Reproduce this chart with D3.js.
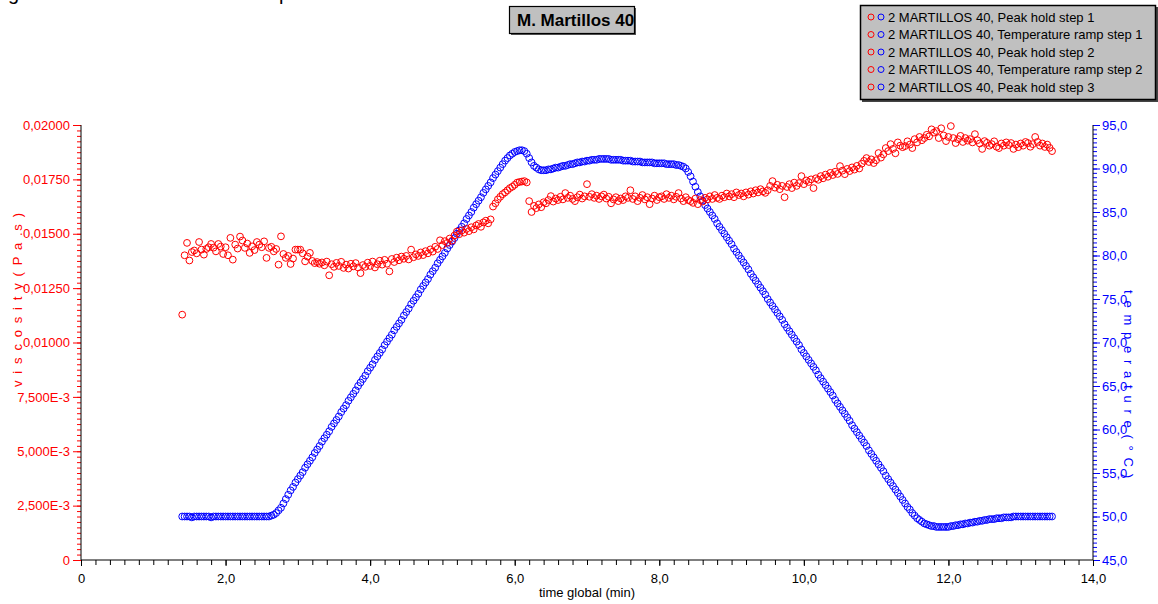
<!DOCTYPE html>
<html>
<head>
<meta charset="utf-8">
<script src="https://cdn.jsdelivr.net/npm/d3@7"></script>
<style>
  html, body { margin: 0; padding: 0; background: #fff; overflow: hidden; }
  svg { display: block; font-family: "Liberation Sans", Arial, sans-serif; }
</style>
</head>
<body>
<svg id="chart" width="1158" height="604"></svg>
<script>
// ---- Rheometer run "2 MARTILLOS 40": viscosity (Pa.s) and temperature (°C) vs time ----
// Samples are logged every 2 s; each step lists its start time (min) and its readings.

const SAMPLE_MIN = 2 / 60;

const stepNames = [
  "Peak hold step 1",
  "Temperature ramp step 1",
  "Peak hold step 2",
  "Temperature ramp step 2",
  "Peak hold step 3"
];
const stepStart = [1.400, 2.600, 6.200, 8.4333, 11.8333];

const viscHold1 = [
  0.01128,0.01401,0.01458,0.01377,0.01416,0.01423,0.01410,0.01462,0.01427,0.01404,
  0.01430,0.01438,0.01453,0.01436,0.01419,0.01453,0.01441,0.01407,0.01438,0.01401,
  0.01481,0.01381,0.01450,0.01432,0.01487,0.01469,0.01435,0.01455,0.01412,0.01442,
  0.01425,0.01462,0.01450,0.01438,0.01465,0.01389
];
const tempHold1 = [
  50.0,50.0,50.0,50.0,49.9,50.0,50.0,50.0,50.0,50.0,
  50.0,50.0,49.9,50.0,50.0,50.0,50.0,50.0,50.0,50.0,
  50.0,50.0,50.0,50.0,50.0,50.0,50.0,50.0,50.0,50.0,
  50.0,50.0,50.0,50.0,50.0,50.0
];

const viscRamp1 = [
  0.01435,0.01440,0.01419,0.01430,0.01358,0.01488,0.01407,0.01389,0.01398,0.01361,
  0.01386,0.01427,0.01427,0.01427,0.01410,0.01373,0.01395,0.01412,0.01375,0.01365,
  0.01370,0.01362,0.01368,0.01355,0.01372,0.01309,0.01360,0.01348,0.01366,0.01352,
  0.01371,0.01343,0.01358,0.01340,0.01362,0.01350,0.01365,0.01345,0.01319,0.01356,
  0.01348,0.01367,0.01352,0.01372,0.01345,0.01360,0.01376,0.01358,0.01380,0.01362,
  0.01327,0.01384,0.01370,0.01390,0.01378,0.01395,0.01385,0.01398,0.01382,0.01427,
  0.01392,0.01405,0.01398,0.01414,0.01402,0.01420,0.01410,0.01428,0.01418,0.01440,
  0.01430,0.01470,0.01448,0.01466,0.01458,0.01478,0.01468,0.01492,0.01510,0.01498,
  0.01515,0.01505,0.01522,0.01512,0.01530,0.01520,0.01538,0.01545,0.01532,0.01552,
  0.01560,0.01548,0.01566,0.01625,0.01640,0.01658,0.01670,0.01682,0.01690,0.01700,
  0.01710,0.01716,0.01725,0.01735,0.01738,0.01740,0.01742,0.01736
];
const tempRamp1 = [
  50.0,50.1,50.2,50.4,50.7,51.0,51.5,52.0,52.5,53.0,
  53.4,53.9,54.3,54.7,55.1,55.6,56.0,56.4,56.8,57.3,
  57.7,58.1,58.6,59.0,59.4,59.8,60.3,60.7,61.1,61.5,
  62.0,62.4,62.8,63.3,63.7,64.1,64.5,65.0,65.4,65.8,
  66.2,66.7,67.1,67.5,68.0,68.4,68.8,69.2,69.7,70.1,
  70.5,70.9,71.4,71.8,72.2,72.6,73.1,73.5,73.9,74.4,
  74.8,75.2,75.6,76.1,76.5,76.9,77.3,77.8,78.2,78.6,
  79.1,79.5,79.9,80.3,80.8,81.2,81.6,82.0,82.5,82.9,
  83.3,83.7,84.2,84.6,85.0,85.5,85.9,86.3,86.7,87.2,
  87.6,88.0,88.4,88.9,89.3,89.7,90.1,90.5,90.9,91.2,
  91.5,91.7,91.9,92.0,92.1,92.1,92.0,91.7
];

const viscHold2 = [
  0.01650,0.01600,0.01628,0.01618,0.01635,0.01622,0.01645,0.01640,0.01655,0.01673,
  0.01648,0.01662,0.01655,0.01670,0.01658,0.01687,0.01665,0.01675,0.01660,0.01650,
  0.01668,0.01680,0.01662,0.01672,0.01728,0.01670,0.01682,0.01665,0.01675,0.01660,
  0.01672,0.01680,0.01662,0.01670,0.01640,0.01658,0.01668,0.01650,0.01662,0.01655,
  0.01672,0.01665,0.01700,0.01660,0.01672,0.01650,0.01665,0.01678,0.01658,0.01668,
  0.01636,0.01662,0.01675,0.01655,0.01668,0.01672,0.01660,0.01682,0.01665,0.01675,
  0.01658,0.01670,0.01687,0.01662,0.01650,0.01668,0.01655
];
const tempHold2 = [
  91.2,90.7,90.3,90.1,89.9,89.8,89.8,89.8,89.9,89.9,
  90.0,90.1,90.1,90.2,90.3,90.3,90.4,90.5,90.5,90.6,
  90.7,90.7,90.8,90.8,90.9,90.9,91.0,91.0,91.0,91.1,
  91.1,91.1,91.1,91.1,91.0,91.0,91.0,91.0,91.0,90.9,
  90.9,90.9,90.9,90.8,90.8,90.8,90.8,90.7,90.7,90.7,
  90.7,90.7,90.6,90.6,90.6,90.6,90.6,90.5,90.5,90.5,
  90.5,90.4,90.4,90.3,90.2,90.0,89.6
];

const viscRamp2 = [
  0.01650,0.01642,0.01662,0.01636,0.01655,0.01648,0.01665,0.01658,0.01672,0.01660,
  0.01678,0.01665,0.01660,0.01675,0.01668,0.01685,0.01672,0.01682,0.01668,0.01690,
  0.01678,0.01685,0.01672,0.01690,0.01680,0.01695,0.01685,0.01700,0.01690,0.01705,
  0.01695,0.01688,0.01700,0.01720,0.01742,0.01712,0.01725,0.01705,0.01720,0.01668,
  0.01715,0.01728,0.01710,0.01735,0.01720,0.01733,0.01765,0.01728,0.01745,0.01738,
  0.01750,0.01710,0.01755,0.01748,0.01765,0.01755,0.01772,0.01762,0.01780,0.01770,
  0.01785,0.01775,0.01811,0.01790,0.01774,0.01798,0.01788,0.01805,0.01795,0.01812,
  0.01800,0.01822,0.01835,0.01848,0.01830,0.01842,0.01825,0.01838,0.01871,0.01850,
  0.01865,0.01894,0.01880,0.01912,0.01890,0.01870,0.01920,0.01905,0.01898,0.01903,
  0.01925,0.01910,0.01894,0.01935,0.01920,0.01945,0.01930,0.01940,0.01955,0.01948,
  0.01980,0.01965
];
const tempRamp2 = [
  89.1,88.5,87.9,87.3,86.8,86.3,85.8,85.4,85.0,84.6,
  84.2,83.7,83.3,82.9,82.5,82.1,81.7,81.3,80.8,80.4,
  80.0,79.6,79.2,78.8,78.4,77.9,77.5,77.1,76.7,76.3,
  75.9,75.5,75.0,74.6,74.2,73.8,73.4,73.0,72.6,72.1,
  71.7,71.3,70.9,70.5,70.1,69.7,69.2,68.8,68.4,68.0,
  67.6,67.2,66.8,66.3,65.9,65.5,65.1,64.7,64.3,63.9,
  63.4,63.0,62.6,62.2,61.8,61.4,61.0,60.5,60.1,59.7,
  59.3,58.9,58.5,58.1,57.6,57.2,56.8,56.4,56.0,55.6,
  55.2,54.7,54.3,53.9,53.5,53.1,52.7,52.3,51.9,51.5,
  51.1,50.8,50.4,50.1,49.8,49.6,49.4,49.2,49.1,49.0,
  48.9,48.9
];

const viscHold3 = [
  0.01972,0.01940,0.01985,0.01952,0.01926,0.01945,0.01995,0.01940,0.01917,0.01935,
  0.01950,0.01922,0.01940,0.01928,0.01935,0.01920,0.01958,0.01930,0.01915,0.01890,
  0.01926,0.01918,0.01905,0.01912,0.01925,0.01900,0.01894,0.01915,0.01905,0.01920,
  0.01908,0.01917,0.01890,0.01910,0.01898,0.01915,0.01905,0.01922,0.01917,0.01900,
  0.01912,0.01945,0.01922,0.01905,0.01915,0.01899,0.01910,0.01895,0.01880
];
const tempHold3 = [
  48.8,48.8,48.8,48.8,48.8,48.8,48.9,48.9,49.0,49.0,
  49.1,49.1,49.2,49.2,49.3,49.3,49.4,49.4,49.5,49.5,
  49.6,49.6,49.7,49.7,49.7,49.8,49.8,49.8,49.9,49.9,
  49.9,49.9,50.0,50.0,50.0,50.0,50.0,50.0,50.0,50.0,
  50.0,50.0,50.0,50.0,50.0,50.0,50.0,50.0,50.0
];

const viscSteps = [viscHold1, viscRamp1, viscHold2, viscRamp2, viscHold3];
const tempSteps = [tempHold1, tempRamp1, tempHold2, tempRamp2, tempHold3];

// Axis ticks
const timeTicks = [0, 2, 4, 6, 8, 10, 12, 14];
const timeTickLabels = ["0", "2,0", "4,0", "6,0", "8,0", "10,0", "12,0", "14,0"];
const viscTicks = [0, 0.0025, 0.005, 0.0075, 0.01, 0.0125, 0.015, 0.0175, 0.02];
const viscTickLabels = ["0", "2,500E-3", "5,000E-3", "7,500E-3", "0,01000", "0,01250", "0,01500", "0,01750", "0,02000"];
const tempTicks = [45, 50, 55, 60, 65, 70, 75, 80, 85, 90, 95];
const tempTickLabels = ["45,0", "50,0", "55,0", "60,0", "65,0", "70,0", "75,0", "80,0", "85,0", "90,0", "95,0"];

const sampleName = "2 MARTILLOS 40";
const chartTitle = "M. Martillos 40";

// ---- drawing ----
const RED = "#ff0000", BLUE = "#0000ff";
const FONT = 13;
const svg = d3.select("#chart");

const x = d3.scaleLinear().domain([0, 14]).range([81, 1093]);
const yV = d3.scaleLinear().domain([0, 0.02]).range([560, 125]);
const yT = d3.scaleLinear().domain([45, 95]).range([560, 125]);

// fragments of a caption line sitting above the page edge
svg.append("text").attr("x", 8).attr("y", 0).attr("font-size", 20).attr("fill", "#000").text("g");
svg.append("text").attr("x", 279).attr("y", 0).attr("font-size", 20).attr("fill", "#000").text("p");

function styleAxis(g, color, textColor) {
  g.select(".domain").remove();
  g.selectAll(".tick line").attr("stroke", color);
  g.selectAll(".tick text").attr("fill", textColor).attr("font-size", FONT)
    .attr("font-family", '"Liberation Sans", Arial, sans-serif');
}

// left axis: viscosity
const leftMinor = svg.append("g").attr("transform", "translate(81,0)")
  .call(d3.axisLeft(yV).tickValues(d3.range(0, 0.02 + 1e-9, 0.00025)).tickSize(4).tickFormat(""));
styleAxis(leftMinor, RED, RED);
const leftMajor = svg.append("g").attr("transform", "translate(81,0)")
  .call(d3.axisLeft(yV).tickValues(viscTicks).tickSize(8).tickPadding(3)
    .tickFormat((d, i) => viscTickLabels[i]));
styleAxis(leftMajor, RED, RED);

// right axis: temperature
const rightMinor = svg.append("g").attr("transform", "translate(1093,0)")
  .call(d3.axisRight(yT).tickValues(d3.range(45, 95.001, 0.5)).tickSize(4).tickFormat(""));
styleAxis(rightMinor, BLUE, BLUE);
const rightMajor = svg.append("g").attr("transform", "translate(1093,0)")
  .call(d3.axisRight(yT).tickValues(tempTicks).tickSize(7).tickPadding(2)
    .tickFormat((d, i) => tempTickLabels[i]));
styleAxis(rightMajor, BLUE, BLUE);

// bottom axis: time
const botMinor = svg.append("g").attr("transform", "translate(0,560)")
  .call(d3.axisBottom(x).tickValues(d3.range(0, 14.001, 0.2)).tickSize(5).tickFormat(""));
styleAxis(botMinor, "#000", "#000");
const botMajor = svg.append("g").attr("transform", "translate(0,560)")
  .call(d3.axisBottom(x).tickValues(timeTicks).tickSize(6).tickFormat((d, i) => timeTickLabels[i]));
styleAxis(botMajor, "#000", "#000");
botMajor.selectAll(".tick text").attr("y", 14).attr("dy", "0.71em");

// axis lines
svg.append("line").attr("x1", 81).attr("x2", 81).attr("y1", 125).attr("y2", 560).attr("stroke", "#000");
svg.append("line").attr("x1", 1093).attr("x2", 1093).attr("y1", 125).attr("y2", 560).attr("stroke", "#000");
svg.append("line").attr("x1", 81).attr("x2", 1093).attr("y1", 560).attr("y2", 560).attr("stroke", "#000");

// axis titles
svg.append("text").attr("x", 587).attr("y", 597).attr("text-anchor", "middle")
  .attr("font-size", FONT).attr("fill", "#000").text("time global (min)");
svg.append("text").attr("transform", "translate(22,300) rotate(-90)").attr("text-anchor", "middle")
  .attr("font-size", FONT).attr("fill", RED)
  .attr("textLength", 174).attr("lengthAdjust", "spacing")
  .text("v i s c o s i t y ( P a .s )");
svg.append("text").attr("transform", "translate(1124,384) rotate(90)").attr("text-anchor", "middle")
  .attr("font-size", FONT).attr("fill", BLUE)
  .attr("textLength", 188).attr("lengthAdjust", "spacing")
  .text("t e m p e r a t u r e ( ° C )");

// data points
function points(steps) {
  const out = [];
  steps.forEach((vals, s) => vals.forEach((v, k) => out.push({ t: stepStart[s] + k * SAMPLE_MIN, v })));
  return out;
}
const tempPts = points(tempSteps);
const viscPts = points(viscSteps);
const R = 3.4;

svg.append("g").selectAll("circle").data(tempPts).join("circle")
  .attr("cx", d => x(d.t)).attr("cy", d => yT(d.v)).attr("r", R)
  .attr("fill", "none").attr("stroke", BLUE).attr("stroke-width", 1);
svg.append("g").selectAll("circle").data(viscPts).join("circle")
  .attr("cx", d => x(d.t)).attr("cy", d => yV(d.v)).attr("r", R)
  .attr("fill", "none").attr("stroke", RED).attr("stroke-width", 1);

// title box
const tb = svg.append("g");
tb.append("rect").attr("x", 511).attr("y", 8).attr("width", 125).attr("height", 27).attr("fill", "#555");
tb.append("rect").attr("x", 509.5).attr("y", 6.5).attr("width", 125).attr("height", 27)
  .attr("fill", "#c0c0c0").attr("stroke", "#000").attr("stroke-width", 1.2);
svg.append("clipPath").attr("id", "titleClip").append("rect")
  .attr("x", 510).attr("y", 7).attr("width", 124).attr("height", 26);
tb.append("text").attr("clip-path", "url(#titleClip)").attr("x", 517).attr("y", 26)
  .attr("font-size", 17).attr("font-weight", "bold").attr("fill", "#000").text(chartTitle);

// legend
const lg = svg.append("g");
lg.append("rect").attr("x", 862).attr("y", 7).attr("width", 296).attr("height", 95).attr("fill", "#444");
lg.append("rect").attr("x", 860.5).attr("y", 5.5).attr("width", 295).attr("height", 94)
  .attr("fill", "#c0c0c0").attr("stroke", "#000").attr("stroke-width", 1.5);
stepNames.forEach((name, i) => {
  const cy = 17 + i * 17.5;
  lg.append("circle").attr("cx", 871).attr("cy", cy).attr("r", 3).attr("fill", "none").attr("stroke", RED);
  lg.append("circle").attr("cx", 881).attr("cy", cy).attr("r", 3).attr("fill", "none").attr("stroke", BLUE);
  lg.append("text").attr("x", 888).attr("y", cy).attr("dy", "0.36em").attr("font-size", FONT)
    .attr("fill", "#000").text(sampleName + ", " + name);
});
</script>
</body>
</html>
